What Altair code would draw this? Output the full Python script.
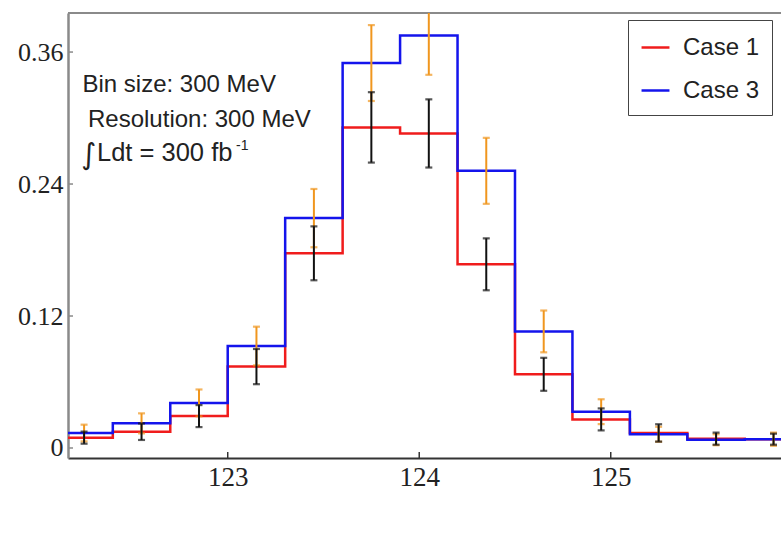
import altair as alt
import pandas as pd

# ---------------- data ----------------
bin_edges = [122.1, 122.4, 122.7, 123.0, 123.3, 123.6, 123.9, 124.2, 124.5,
             124.8, 125.1, 125.4, 125.7, 126.0]
bin_centers = [122.25, 122.55, 122.85, 123.15, 123.45, 123.75, 124.05, 124.35,
               124.65, 124.95, 125.25, 125.55, 125.85]
case1 = [0.0094, 0.0148, 0.029, 0.074, 0.177, 0.2915, 0.286, 0.167, 0.067,
         0.026, 0.0137, 0.0085, 0.008]
case3 = [0.0136, 0.0224, 0.041, 0.0927, 0.209, 0.350, 0.375, 0.252, 0.106,
         0.033, 0.0125, 0.0075, 0.008]
err1 = [0.0055, 0.0075, 0.010, 0.016, 0.0245, 0.032, 0.031, 0.0236, 0.015,
        0.010, 0.0079, 0.0055, 0.005]
err3 = [0.0076, 0.0091, 0.0122, 0.0176, 0.0265, 0.0345, 0.0357, 0.030, 0.019,
        0.0113, 0.0068, 0.005, 0.006]
series_names = ["Case 1", "Case 3"]
series_colors = ["#f01c1c", "#1414ec"]
x_ticks = [123, 124, 125]
y_ticks = [0, 0.12, 0.24, 0.36]
annotations = ["Bin size: 300 MeV", "Resolution: 300 MeV", "Ldt = 300 fb"]

# ---------------- tables ----------------
rows = []
for name, vals in zip(series_names, [case1, case3]):
    for i, e in enumerate(bin_edges):
        v = vals[i] if i < len(vals) else vals[-1]
        rows.append({"edge": e, "value": v, "series": name})
steps = pd.DataFrame(rows)

def err_table(vals, errs):
    return pd.DataFrame({
        "center": bin_centers,
        "lo": [v - e for v, e in zip(vals, errs)],
        "hi": [v + e for v, e in zip(vals, errs)],
    })

err_case1 = err_table(case1, err1)
err_case3 = err_table(case3, err3)

W, H = 713, 445
xscale = alt.Scale(domain=[122.166, 125.889], nice=False, zero=False)
yscale = alt.Scale(domain=[-0.0091, 0.3955], nice=False, zero=False)

xaxis = alt.Axis(values=x_ticks, format="d", ticks=False, grid=False, title=None,
                 domainColor="#333333", domainWidth=2, labelFont="Liberation Serif",
                 labelFontSize=27, labelColor="#222222", labelPadding=6)
yaxis = alt.Axis(values=y_ticks, ticks=False, grid=False, title=None,
                 labelExpr="datum.value == 0 ? '0' : format(datum.value, '.2f')",
                 domainColor="#8a8a8a", domainWidth=2.5, labelFont="Liberation Serif",
                 labelFontSize=26, labelColor="#222222", labelPadding=5)

top_rule = alt.Chart(pd.DataFrame({"a": [0]})).mark_rule(
    color="#8a8a8a", strokeWidth=2
).encode(x=alt.value(0), x2=alt.value(W), y=alt.value(0))

lines = alt.Chart(steps).mark_line(
    interpolate="step-after", strokeWidth=2.5, clip=True
).encode(
    x=alt.X("edge:Q", scale=xscale, axis=xaxis),
    y=alt.Y("value:Q", scale=yscale, axis=yaxis),
    color=alt.Color("series:N",
                    scale=alt.Scale(domain=series_names, range=series_colors),
                    legend=alt.Legend(title=None, orient="none", legendX=560, legendY=7,
                                      fillColor="white", strokeColor="#444444",
                                      padding=12, symbolType="stroke", symbolSize=780,
                                      symbolStrokeWidth=2.5, labelFont="Liberation Sans",
                                      labelFontSize=24, labelColor="#222222",
                                      labelOffset=12, rowPadding=15)),
    detail="series:N",
)

def errbars(df, color):
    base = alt.Chart(df)
    rule = base.mark_rule(color=color, strokeWidth=2, clip=True).encode(
        x=alt.X("center:Q", scale=xscale, axis=xaxis),
        y=alt.Y("lo:Q", scale=yscale, axis=yaxis),
        y2="hi:Q",
    )
    cap_lo = base.mark_tick(color=color, orient="horizontal", size=7, thickness=2.2,
                            clip=True).encode(
        x=alt.X("center:Q", scale=xscale, axis=xaxis),
        y=alt.Y("lo:Q", scale=yscale, axis=yaxis),
    )
    cap_hi = base.mark_tick(color=color, orient="horizontal", size=7, thickness=2.2,
                            clip=True).encode(
        x=alt.X("center:Q", scale=xscale, axis=xaxis),
        y=alt.Y("hi:Q", scale=yscale, axis=yaxis),
    )
    return [rule, cap_lo, cap_hi]

xt = alt.Chart(pd.DataFrame({"t": x_ticks})).mark_rule(color="#333333", strokeWidth=1.5).encode(
    x=alt.X("t:Q", scale=xscale, axis=xaxis), y=alt.value(H - 6), y2=alt.value(H)
)
yt = alt.Chart(pd.DataFrame({"t": y_ticks})).mark_rule(color="#8a8a8a", strokeWidth=1.5).encode(
    y=alt.Y("t:Q", scale=yscale, axis=yaxis), x=alt.value(0), x2=alt.value(5)
)

def label(text, x, y, size=24, font="Liberation Sans"):
    return alt.Chart(pd.DataFrame({"t": [text]})).mark_text(
        align="left", baseline="alphabetic", font=font, fontSize=size, color="#222222"
    ).encode(x=alt.value(x), y=alt.value(y), text="t:N")

texts = [
    label(annotations[0], 14.5, 79),
    label(annotations[1], 20, 113.5),
    label("\u222b", 13, 151, size=29, font="DejaVu Sans"),
    label(annotations[2], 29, 148, size=25.5),
    label("-1", 168, 137, size=14),
]

layers = [top_rule, lines] + errbars(err_case3, "#f0961e") + errbars(err_case1, "#111111") + [xt, yt] + texts

chart = alt.layer(*layers).properties(
    width=W, height=H,
    padding={"left": 68, "top": 13, "right": 0, "bottom": 98},
    autosize=alt.AutoSizeParams(type="none"),
    background="white",
).configure_view(stroke=None)

chart.save("out.html", embed_options={"renderer": "svg", "actions": False})
